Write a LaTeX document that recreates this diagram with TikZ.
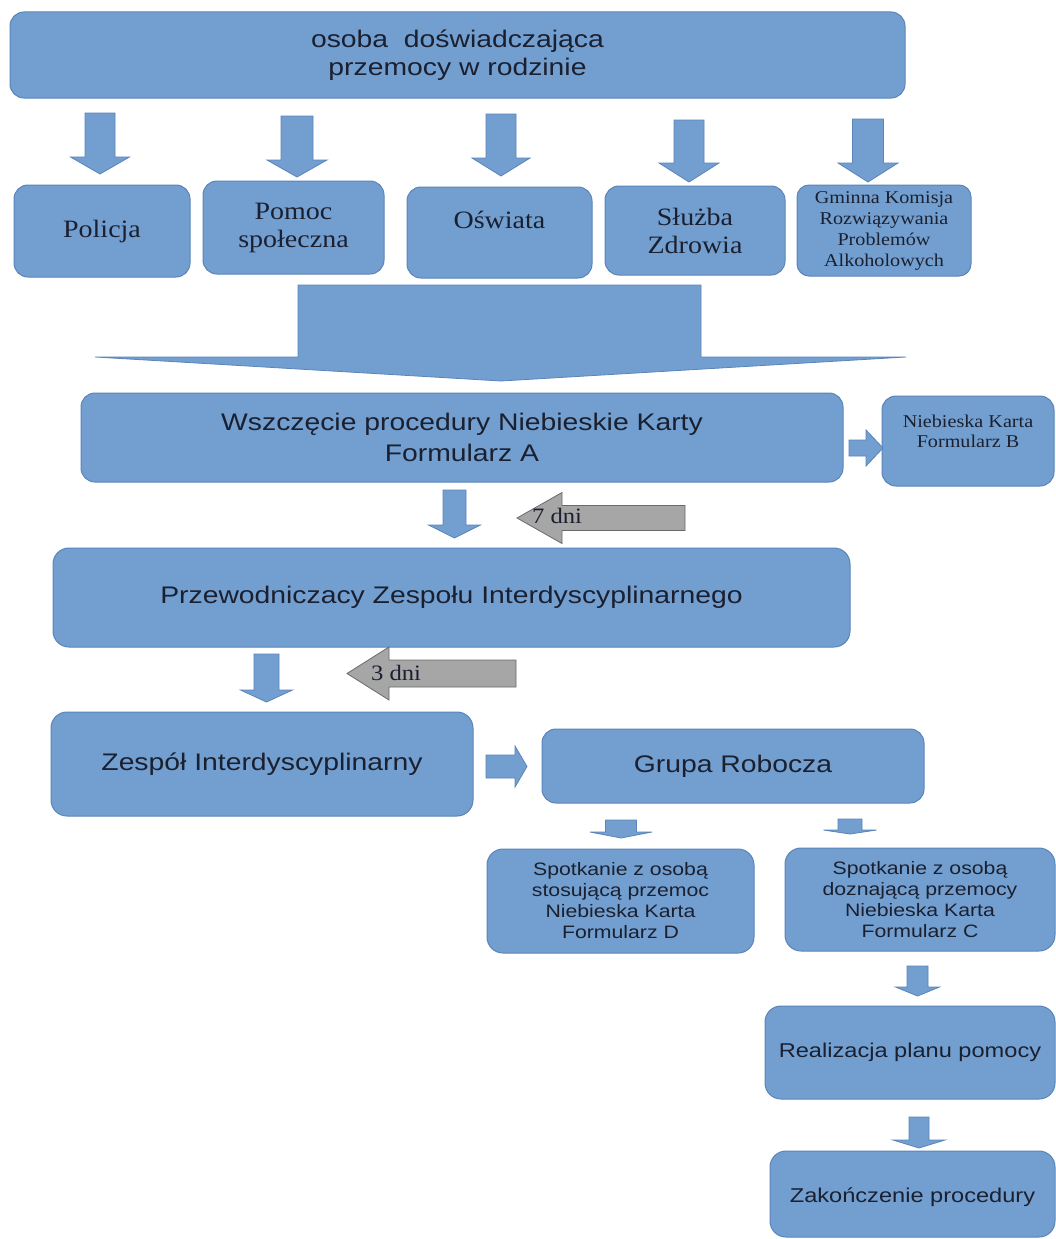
\documentclass[tikz,border=0pt]{standalone}
\usepackage{fontspec}
\newfontfamily\sansf[FakeStretch=1.18]{Liberation Sans}
\newfontfamily\serf[FakeStretch=1.12]{Liberation Serif}
\definecolor{boxfill}{HTML}{729FCF}
\definecolor{boxline}{HTML}{5A84BA}
\definecolor{gfill}{HTML}{A6A6A6}
\definecolor{gline}{HTML}{6A6A6A}
\definecolor{txt}{HTML}{1B2030}
\newcommand{\blkdown}[7][barrow]{%
  \draw[#1] ({#2-#6},#3) -- ({#2+#6},#3) -- ({#2+#6},#4) -- ({#2+#7},#4) -- (#2,#5) -- ({#2-#7},#4) -- ({#2-#6},#4) -- cycle;}
% tailx, headbasex, tipx, cy, sw, hw
\newcommand{\blkhor}[7][barrow]{%
  \draw[#1] (#2,{#5-#6}) -- (#3,{#5-#6}) -- (#3,{#5-#7}) -- (#4,#5) -- (#3,{#5+#7}) -- (#3,{#5+#6}) -- (#2,{#5+#6}) -- cycle;}
\tikzset{
  box/.style={draw=boxline, fill=boxfill, rounded corners=14pt, line width=1pt, inner sep=0pt, align=center, text=txt},
  barrow/.style={draw=boxline, fill=boxfill, line width=0.8pt, line join=miter},
  garrow/.style={draw=gline, fill=gfill, line width=0.8pt},
  bigsans/.style={font=\sansf\fontsize{24}{28}\selectfont},
  midsans/.style={font=\sansf\fontsize{20}{24}\selectfont},
  smallsans/.style={font=\sansf\fontsize{18}{21}\selectfont},
  bigser/.style={font=\serf\fontsize{25}{28}\selectfont},
  smallser/.style={font=\serf\fontsize{18}{21}\selectfont},
  lbl/.style={inner sep=0pt, align=center, text=txt},
}
\begin{document}
\begin{tikzpicture}[x=1pt, y=-1pt]
\useasboundingbox[fill=white] (0,0) rectangle (1056,1239);

% top box
\node[box, bigsans, minimum width=895pt, minimum height=86pt] (top) at (457.5,55) {osoba\ \ doświadczająca\\przemocy w rodzinie};

% five down arrows
\blkdown{100}{113}{157}{174}{15}{29.5}
\blkdown{297}{116}{160}{177}{16}{30}
\blkdown{501}{114}{158}{176}{15}{29}
\blkdown{689}{120}{163}{182}{15}{30}
\blkdown{868}{119}{163}{182}{15.5}{30}

% row of institutions
\node[box, bigser, minimum width=176pt, minimum height=92pt] (pol) at (102,231) {Policja};
\node[box, bigser, minimum width=181pt, minimum height=93pt] (pom) at (293.5,227.5) {Pomoc\\społeczna};
\node[box, minimum width=185pt, minimum height=91pt] (osw) at (499.5,232.5) {};
\node[lbl, bigser] (oswT) at (499.5,220) {Oświata};
\node[box, bigser, minimum width=180pt, minimum height=89pt] (slu) at (695,230.5) {Służba\\Zdrowia};
\node[box, smallser, minimum width=174pt, minimum height=91pt, rounded corners=12pt] (gk) at (884,230.5) {Gminna Komisja\\Rozwiązywania\\Problemów\\Alkoholowych};

% big arrow
\draw[barrow] (298,285) -- (701,285) -- (701,357) -- (906,357) -- (501,381) -- (95,357) -- (298,357) -- cycle;

% Wszczęcie
\node[box, font=\sansf\fontsize{24}{31}\selectfont, minimum width=762pt, minimum height=89pt] (wsz) at (462,437.5) {Wszczęcie procedury Niebieskie Karty\\Formularz A};
\node[box, minimum width=172pt, minimum height=90pt] (nkb) at (968,441) {};
\node[lbl, font=\serf\fontsize{18}{20}\selectfont] (nkbT) at (968,431) {Niebieska Karta\\Formularz B};
\blkhor{849}{866}{883}{448}{8}{18}

% down arrow + 7 dni
\blkdown{454.5}{490}{525}{538}{11.5}{26}
\blkhor[garrow]{685}{562}{517}{518}{12.5}{25.5}
\node[lbl, font=\serf\fontsize{22}{24}\selectfont] (d7) at (557,516) {7 dni};

% Przewodniczacy
\node[box, bigsans, minimum width=797pt, minimum height=99pt, rounded corners=16pt] (prz) at (451.5,597.5) {Przewodniczacy Zespołu Interdyscyplinarnego};

\blkdown{266.5}{654}{690}{702}{12.5}{26}
\blkhor[garrow]{516}{389}{347}{673.5}{13.5}{26.5}
\node[lbl, font=\serf\fontsize{22}{24}\selectfont] (d3) at (396,673) {3 dni};

% Zespół + Grupa
\node[box, bigsans, minimum width=422pt, minimum height=104pt, rounded corners=16pt] (zesp) at (262,764) {Zespół Interdyscyplinarny};
\blkhor{486}{515}{527}{766.5}{11.5}{20.5}
\node[box, bigsans, minimum width=382pt, minimum height=74pt] (grupa) at (733,766) {Grupa Robocza};

% small flat arrows
\blkdown{621}{820}{832}{838}{15.5}{31}
\blkdown{850}{819}{830}{834}{12}{26.5}

% D and C
\node[box, smallsans, minimum width=267pt, minimum height=104pt, rounded corners=16pt] (fd) at (620.5,901) {Spotkanie z osobą\\stosującą przemoc\\Niebieska Karta\\Formularz D};
\node[box, smallsans, minimum width=270pt, minimum height=103pt, rounded corners=16pt] (fc) at (920,899.5) {Spotkanie z osobą\\doznającą przemocy\\Niebieska Karta\\Formularz C};

\blkdown{917.5}{966}{987}{996}{10.5}{22}

\node[box, midsans, minimum width=290pt, minimum height=93pt, rounded corners=16pt] (real) at (910,1052.5) {Realizacja planu pomocy};

\blkdown{919}{1117}{1140}{1148}{10}{26}

\node[box, midsans, minimum width=285pt, minimum height=86pt, rounded corners=16pt] (zak) at (912.5,1194) {};
\node[lbl, midsans] (zakT) at (912.5,1197) {Zakończenie procedury};
\end{tikzpicture}
\end{document}
